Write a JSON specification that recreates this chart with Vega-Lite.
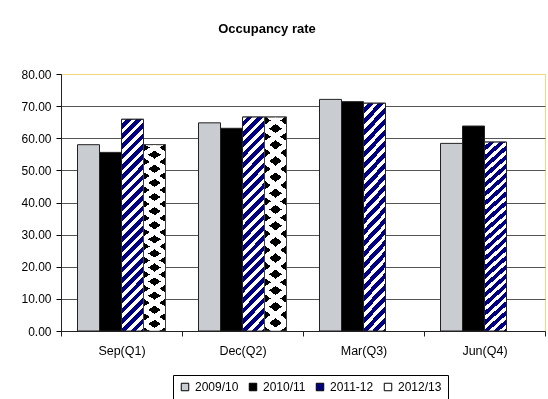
{
  "$schema": "https://vega.github.io/schema/vega-lite/v6.json",
  "autosize": {"type": "none"},
  "width": 484,
  "height": 257,
  "padding": {"left": 61, "top": 74, "right": 3, "bottom": 68},
  "background": "white",
  "config": {"font": "Liberation Sans", "view": {"stroke": "#F2D77E", "strokeWidth": 1}},
  "title": {"text": "Occupancy rate", "fontSize": 13, "fontWeight": "bold", "color": "#000", "frame": "group", "anchor": "middle", "baseline": "alphabetic", "offset": 22, "dx": -36},
  "data": {"values": [
    {"quarter": "Sep(Q1)", "series": "2009/10", "value": 58.0},
    {"quarter": "Sep(Q1)", "series": "2010/11", "value": 55.6},
    {"quarter": "Sep(Q1)", "series": "2011-12", "value": 65.9},
    {"quarter": "Sep(Q1)", "series": "2012/13", "value": 58.0},
    {"quarter": "Dec(Q2)", "series": "2009/10", "value": 64.8},
    {"quarter": "Dec(Q2)", "series": "2010/11", "value": 63.1},
    {"quarter": "Dec(Q2)", "series": "2011-12", "value": 66.6},
    {"quarter": "Dec(Q2)", "series": "2012/13", "value": 66.6},
    {"quarter": "Mar(Q3)", "series": "2009/10", "value": 72.1},
    {"quarter": "Mar(Q3)", "series": "2010/11", "value": 71.4},
    {"quarter": "Mar(Q3)", "series": "2011-12", "value": 70.9},
    {"quarter": "Jun(Q4)", "series": "2009/10", "value": 58.4},
    {"quarter": "Jun(Q4)", "series": "2010/11", "value": 63.8},
    {"quarter": "Jun(Q4)", "series": "2011-12", "value": 58.8}
  ]},
  "encoding": {
    "x": {"field": "quarter", "type": "nominal", "sort": ["Sep(Q1)", "Dec(Q2)", "Mar(Q3)", "Jun(Q4)"],
      "scale": {"paddingInner": 0, "paddingOuter": 0},
      "axis": {"title": null, "labelAngle": 0, "tickBand": "extent", "tickSize": 5, "tickColor": "#222", "domainColor": "#222", "labelFontSize": 12.5, "labelColor": "#000", "labelPadding": 8, "grid": false}},
    "xOffset": {"field": "series", "type": "nominal", "scale": {"domain": ["2009/10", "2010/11", "2011-12", "2012/13"], "paddingInner": 0, "paddingOuter": 0.75}},
    "y": {"field": "value", "type": "quantitative", "scale": {"domain": [0, 80], "nice": false},
      "axis": {"title": null, "values": [0, 10, 20, 30, 40, 50, 60, 70, 80], "format": ".2f", "tickSize": 5, "labelPadding": 5, "labelFontSize": 12, "labelColor": "#000", "tickColor": "#000", "domainColor": "#222",
        "gridColor": {"condition": {"test": "datum.value === 80", "value": "#F2D77E"}, "value": "#555555"}}}
  },
  "layer": [
    {
      "mark": {"type": "bar", "stroke": "#222", "strokeWidth": 1},
      "encoding": {
        "color": {"field": "series", "type": "nominal",
          "scale": {"domain": ["2009/10", "2010/11", "2011-12", "2012/13"], "range": ["#C9CCD1", "#000000", "#000080", "#FFFFFF"]},
          "legend": {"orient": "none", "legendX": 112, "legendY": 301, "direction": "horizontal", "title": null, "symbolType": "square", "symbolSize": 56, "symbolStrokeColor": "#000", "symbolStrokeWidth": 1, "labelFontSize": 12, "labelOffset": 4, "columnPadding": 8, "padding": 6, "strokeColor": "#000", "fillColor": "#fff", "labelColor": "#000"}}
      }
    },
    {
      "transform": [{"filter": "datum.series === '2011-12'"}],
      "mark": {"type": "bar", "stroke": "#222", "strokeWidth": 1,
        "fill": {"gradient": "linear", "x1": 0, "y1": 0, "x2": 0.1251, "y2": 1.2, "stops": [
          {"offset": 0, "color": "#fff"}, {"offset": 0.018, "color": "#fff"}, {"offset": 0.018, "color": "#000080"}, {"offset": 0.04, "color": "#000080"},
          {"offset": 0.04, "color": "#fff"}, {"offset": 0.058, "color": "#fff"}, {"offset": 0.058, "color": "#000080"}, {"offset": 0.08, "color": "#000080"},
          {"offset": 0.08, "color": "#fff"}, {"offset": 0.098, "color": "#fff"}, {"offset": 0.098, "color": "#000080"}, {"offset": 0.12, "color": "#000080"},
          {"offset": 0.12, "color": "#fff"}, {"offset": 0.138, "color": "#fff"}, {"offset": 0.138, "color": "#000080"}, {"offset": 0.16, "color": "#000080"},
          {"offset": 0.16, "color": "#fff"}, {"offset": 0.178, "color": "#fff"}, {"offset": 0.178, "color": "#000080"}, {"offset": 0.2, "color": "#000080"},
          {"offset": 0.2, "color": "#fff"}, {"offset": 0.218, "color": "#fff"}, {"offset": 0.218, "color": "#000080"}, {"offset": 0.24, "color": "#000080"},
          {"offset": 0.24, "color": "#fff"}, {"offset": 0.258, "color": "#fff"}, {"offset": 0.258, "color": "#000080"}, {"offset": 0.28, "color": "#000080"},
          {"offset": 0.28, "color": "#fff"}, {"offset": 0.298, "color": "#fff"}, {"offset": 0.298, "color": "#000080"}, {"offset": 0.32, "color": "#000080"},
          {"offset": 0.32, "color": "#fff"}, {"offset": 0.338, "color": "#fff"}, {"offset": 0.338, "color": "#000080"}, {"offset": 0.36, "color": "#000080"},
          {"offset": 0.36, "color": "#fff"}, {"offset": 0.378, "color": "#fff"}, {"offset": 0.378, "color": "#000080"}, {"offset": 0.4, "color": "#000080"},
          {"offset": 0.4, "color": "#fff"}, {"offset": 0.418, "color": "#fff"}, {"offset": 0.418, "color": "#000080"}, {"offset": 0.44, "color": "#000080"},
          {"offset": 0.44, "color": "#fff"}, {"offset": 0.458, "color": "#fff"}, {"offset": 0.458, "color": "#000080"}, {"offset": 0.48, "color": "#000080"},
          {"offset": 0.48, "color": "#fff"}, {"offset": 0.498, "color": "#fff"}, {"offset": 0.498, "color": "#000080"}, {"offset": 0.52, "color": "#000080"},
          {"offset": 0.52, "color": "#fff"}, {"offset": 0.538, "color": "#fff"}, {"offset": 0.538, "color": "#000080"}, {"offset": 0.56, "color": "#000080"},
          {"offset": 0.56, "color": "#fff"}, {"offset": 0.578, "color": "#fff"}, {"offset": 0.578, "color": "#000080"}, {"offset": 0.6, "color": "#000080"},
          {"offset": 0.6, "color": "#fff"}, {"offset": 0.618, "color": "#fff"}, {"offset": 0.618, "color": "#000080"}, {"offset": 0.64, "color": "#000080"},
          {"offset": 0.64, "color": "#fff"}, {"offset": 0.658, "color": "#fff"}, {"offset": 0.658, "color": "#000080"}, {"offset": 0.68, "color": "#000080"},
          {"offset": 0.68, "color": "#fff"}, {"offset": 0.698, "color": "#fff"}, {"offset": 0.698, "color": "#000080"}, {"offset": 0.72, "color": "#000080"},
          {"offset": 0.72, "color": "#fff"}, {"offset": 0.738, "color": "#fff"}, {"offset": 0.738, "color": "#000080"}, {"offset": 0.76, "color": "#000080"},
          {"offset": 0.76, "color": "#fff"}, {"offset": 0.778, "color": "#fff"}, {"offset": 0.778, "color": "#000080"}, {"offset": 0.8, "color": "#000080"},
          {"offset": 0.8, "color": "#fff"}, {"offset": 0.818, "color": "#fff"}, {"offset": 0.818, "color": "#000080"}, {"offset": 0.84, "color": "#000080"},
          {"offset": 0.84, "color": "#fff"}, {"offset": 0.858, "color": "#fff"}, {"offset": 0.858, "color": "#000080"}, {"offset": 0.88, "color": "#000080"},
          {"offset": 0.88, "color": "#fff"}, {"offset": 0.898, "color": "#fff"}, {"offset": 0.898, "color": "#000080"}, {"offset": 0.92, "color": "#000080"},
          {"offset": 0.92, "color": "#fff"}, {"offset": 0.938, "color": "#fff"}, {"offset": 0.938, "color": "#000080"}, {"offset": 0.96, "color": "#000080"},
          {"offset": 0.96, "color": "#fff"}, {"offset": 0.978, "color": "#fff"}, {"offset": 0.978, "color": "#000080"}, {"offset": 1, "color": "#000080"}
        ]}}
    },
    {
      "transform": [{"filter": "datum.series === '2012/13'"}],
      "mark": {"type": "bar", "stroke": "#222", "strokeWidth": 1,
        "fill": {"gradient": "linear", "x1": 0, "y1": 1, "x2": 0.080625, "y2": -0.075, "stops": [
          {"offset": 0, "color": "#000"}, {"offset": 0.02, "color": "#000"}, {"offset": 0.02, "color": "#fff"}, {"offset": 0.05, "color": "#fff"},
          {"offset": 0.05, "color": "#000"}, {"offset": 0.09, "color": "#000"}, {"offset": 0.09, "color": "#fff"}, {"offset": 0.12, "color": "#fff"},
          {"offset": 0.12, "color": "#000"}, {"offset": 0.16, "color": "#000"}, {"offset": 0.16, "color": "#fff"}, {"offset": 0.19, "color": "#fff"},
          {"offset": 0.19, "color": "#000"}, {"offset": 0.23, "color": "#000"}, {"offset": 0.23, "color": "#fff"}, {"offset": 0.26, "color": "#fff"},
          {"offset": 0.26, "color": "#000"}, {"offset": 0.3, "color": "#000"}, {"offset": 0.3, "color": "#fff"}, {"offset": 0.33, "color": "#fff"},
          {"offset": 0.33, "color": "#000"}, {"offset": 0.37, "color": "#000"}, {"offset": 0.37, "color": "#fff"}, {"offset": 0.4, "color": "#fff"},
          {"offset": 0.4, "color": "#000"}, {"offset": 0.44, "color": "#000"}, {"offset": 0.44, "color": "#fff"}, {"offset": 0.47, "color": "#fff"},
          {"offset": 0.47, "color": "#000"}, {"offset": 0.51, "color": "#000"}, {"offset": 0.51, "color": "#fff"}, {"offset": 0.54, "color": "#fff"},
          {"offset": 0.54, "color": "#000"}, {"offset": 0.58, "color": "#000"}, {"offset": 0.58, "color": "#fff"}, {"offset": 0.61, "color": "#fff"},
          {"offset": 0.61, "color": "#000"}, {"offset": 0.65, "color": "#000"}, {"offset": 0.65, "color": "#fff"}, {"offset": 0.68, "color": "#fff"},
          {"offset": 0.68, "color": "#000"}, {"offset": 0.72, "color": "#000"}, {"offset": 0.72, "color": "#fff"}, {"offset": 0.75, "color": "#fff"},
          {"offset": 0.75, "color": "#000"}, {"offset": 0.79, "color": "#000"}, {"offset": 0.79, "color": "#fff"}, {"offset": 0.82, "color": "#fff"},
          {"offset": 0.82, "color": "#000"}, {"offset": 0.86, "color": "#000"}, {"offset": 0.86, "color": "#fff"}, {"offset": 0.89, "color": "#fff"},
          {"offset": 0.89, "color": "#000"}, {"offset": 0.93, "color": "#000"}, {"offset": 0.93, "color": "#fff"}, {"offset": 0.96, "color": "#fff"},
          {"offset": 0.96, "color": "#000"}, {"offset": 1, "color": "#000"}
        ]}}
    },
    {
      "transform": [{"filter": "datum.series === '2012/13'"}],
      "mark": {"type": "bar", "stroke": "#222", "strokeWidth": 1, "blend": "screen",
        "fill": {"gradient": "linear", "x1": 0, "y1": 0, "x2": 0.080625, "y2": 1.075, "stops": [
          {"offset": 0, "color": "#000"}, {"offset": 0.0345, "color": "#000"}, {"offset": 0.0345, "color": "#fff"}, {"offset": 0.0645, "color": "#fff"},
          {"offset": 0.0645, "color": "#000"}, {"offset": 0.1045, "color": "#000"}, {"offset": 0.1045, "color": "#fff"}, {"offset": 0.1345, "color": "#fff"},
          {"offset": 0.1345, "color": "#000"}, {"offset": 0.1745, "color": "#000"}, {"offset": 0.1745, "color": "#fff"}, {"offset": 0.2045, "color": "#fff"},
          {"offset": 0.2045, "color": "#000"}, {"offset": 0.2445, "color": "#000"}, {"offset": 0.2445, "color": "#fff"}, {"offset": 0.2745, "color": "#fff"},
          {"offset": 0.2745, "color": "#000"}, {"offset": 0.3145, "color": "#000"}, {"offset": 0.3145, "color": "#fff"}, {"offset": 0.3445, "color": "#fff"},
          {"offset": 0.3445, "color": "#000"}, {"offset": 0.3845, "color": "#000"}, {"offset": 0.3845, "color": "#fff"}, {"offset": 0.4145, "color": "#fff"},
          {"offset": 0.4145, "color": "#000"}, {"offset": 0.4545, "color": "#000"}, {"offset": 0.4545, "color": "#fff"}, {"offset": 0.4845, "color": "#fff"},
          {"offset": 0.4845, "color": "#000"}, {"offset": 0.5245, "color": "#000"}, {"offset": 0.5245, "color": "#fff"}, {"offset": 0.5545, "color": "#fff"},
          {"offset": 0.5545, "color": "#000"}, {"offset": 0.5945, "color": "#000"}, {"offset": 0.5945, "color": "#fff"}, {"offset": 0.6245, "color": "#fff"},
          {"offset": 0.6245, "color": "#000"}, {"offset": 0.6645, "color": "#000"}, {"offset": 0.6645, "color": "#fff"}, {"offset": 0.6945, "color": "#fff"},
          {"offset": 0.6945, "color": "#000"}, {"offset": 0.7345, "color": "#000"}, {"offset": 0.7345, "color": "#fff"}, {"offset": 0.7645, "color": "#fff"},
          {"offset": 0.7645, "color": "#000"}, {"offset": 0.8045, "color": "#000"}, {"offset": 0.8045, "color": "#fff"}, {"offset": 0.8345, "color": "#fff"},
          {"offset": 0.8345, "color": "#000"}, {"offset": 0.8745, "color": "#000"}, {"offset": 0.8745, "color": "#fff"}, {"offset": 0.9045, "color": "#fff"},
          {"offset": 0.9045, "color": "#000"}, {"offset": 0.9445, "color": "#000"}, {"offset": 0.9445, "color": "#fff"}, {"offset": 0.9745, "color": "#fff"},
          {"offset": 0.9745, "color": "#000"}, {"offset": 1, "color": "#000"}
        ]}}
    }
  ]
}
